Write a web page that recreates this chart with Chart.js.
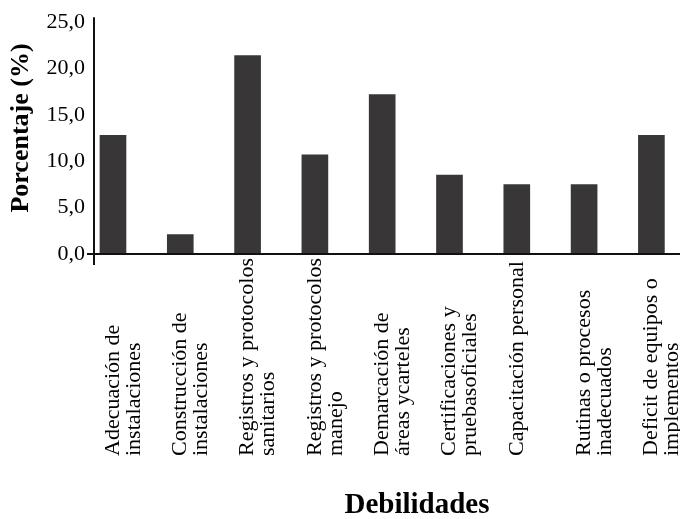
<!DOCTYPE html>
<html>
<head>
<meta charset="utf-8">
<script src="https://cdn.jsdelivr.net/npm/chart.js@4"></script>
<style>
  body { margin: 0; background: #fff; }
  #wrap { width: 680px; height: 519px; position: relative; }
</style>
</head>
<body>
<div id="wrap"><canvas id="myChart"></canvas></div>
<script>
// Chart data
const categories = [
    ['Adecuación de', 'instalaciones'],
    ['Construcción de', 'instalaciones'],
    ['Registros y protocolos', 'sanitarios'],
    ['Registros y protocolos', 'manejo'],
    ['Demarcación de', 'áreas ycarteles'],
    ['Certificaciones y', 'pruebasoficiales'],
    ['Capacitación personal'],
    ['Rutinas o procesos', 'inadecuados'],
    ['Deficit de equipos o', 'implementos']
];
const percentages = [12.8, 2.1, 21.4, 10.7, 17.2, 8.5, 7.5, 7.5, 12.8];
const yTickLabels = ['0,0', '5,0', '10,0', '15,0', '20,0', '25,0'];
const xTitle = 'Debilidades';
const yTitle = 'Porcentaje (%)';

const serif = '"Liberation Serif", "Times New Roman", serif';
Chart.defaults.font.family = serif;
Chart.defaults.color = '#000';

// Axis lines (the y axis runs a little past the baseline, the x axis a little left of the y axis)
const axisLines = {
    id: 'axisLines',
    afterDatasetsDraw(chart) {
        const { ctx, chartArea } = chart;
        ctx.save();
        ctx.strokeStyle = '#111';
        ctx.lineWidth = 2;
        ctx.beginPath();
        ctx.moveTo(chartArea.left, chartArea.top - 5);
        ctx.lineTo(chartArea.left, chartArea.bottom + 11);
        ctx.moveTo(chartArea.left - 7, chartArea.bottom);
        ctx.lineTo(chartArea.right, chartArea.bottom);
        ctx.stroke();
        ctx.restore();
    }
};

// Category labels, rotated, all starting from a common line below the axis, plus the axis titles
const categoryLabels = {
    id: 'categoryLabels',
    afterDraw(chart) {
        const { ctx } = chart;
        const xScale = chart.scales.x;
        const lineHeight = 21;
        const startY = 456;
        ctx.save();
        ctx.fillStyle = '#000';
        ctx.font = '22px ' + serif;
        ctx.textAlign = 'left';
        ctx.textBaseline = 'middle';
        categories.forEach((lines, i) => {
            const x = xScale.getPixelForValue(i);
            ctx.save();
            ctx.translate(x, startY);
            ctx.rotate(-Math.PI / 2);
            lines.forEach((line, k) => ctx.fillText(line, 0, k * lineHeight));
            ctx.restore();
        });
        // axis titles
        ctx.textAlign = 'center';
        ctx.font = 'bold 29px ' + serif;
        ctx.fillText(xTitle, 417, 506);
        ctx.font = 'bold 26px ' + serif;
        ctx.translate(21, 128);
        ctx.rotate(-Math.PI / 2);
        ctx.fillText(yTitle, 0, 0);
        ctx.restore();
    }
};

const ctx = document.getElementById('myChart').getContext('2d');
new Chart(ctx, {
    type: 'bar',
    data: {
        datasets: [{
            label: 'Porcentaje',
            data: percentages.map((v, i) => ({ x: i, y: v })),
            backgroundColor: '#383636',
            barThickness: 26
        }]
    },
    options: {
        responsive: true,
        maintainAspectRatio: false,
        animation: false,
        layout: { padding: { top: 20, right: 0, bottom: 265, left: 0 } },
        plugins: {
            legend: { display: false },
            tooltip: { enabled: false }
        },
        scales: {
            x: {
                type: 'linear',
                offset: false,
                min: -0.282,
                max: 8.425,
                grid: { display: false, drawTicks: false },
                border: { display: false },
                ticks: { display: false }
            },
            y: {
                min: 0,
                max: 25,
                grid: { display: false, drawTicks: false },
                border: { display: false },
                ticks: {
                    stepSize: 5,
                    padding: 9,
                    font: { size: 22 },
                    callback: value => yTickLabels[value / 5]
                },
                afterFit: scale => { scale.width = 94; }
            }
        }
    },
    plugins: [axisLines, categoryLabels]
});
</script>
</body>
</html>
